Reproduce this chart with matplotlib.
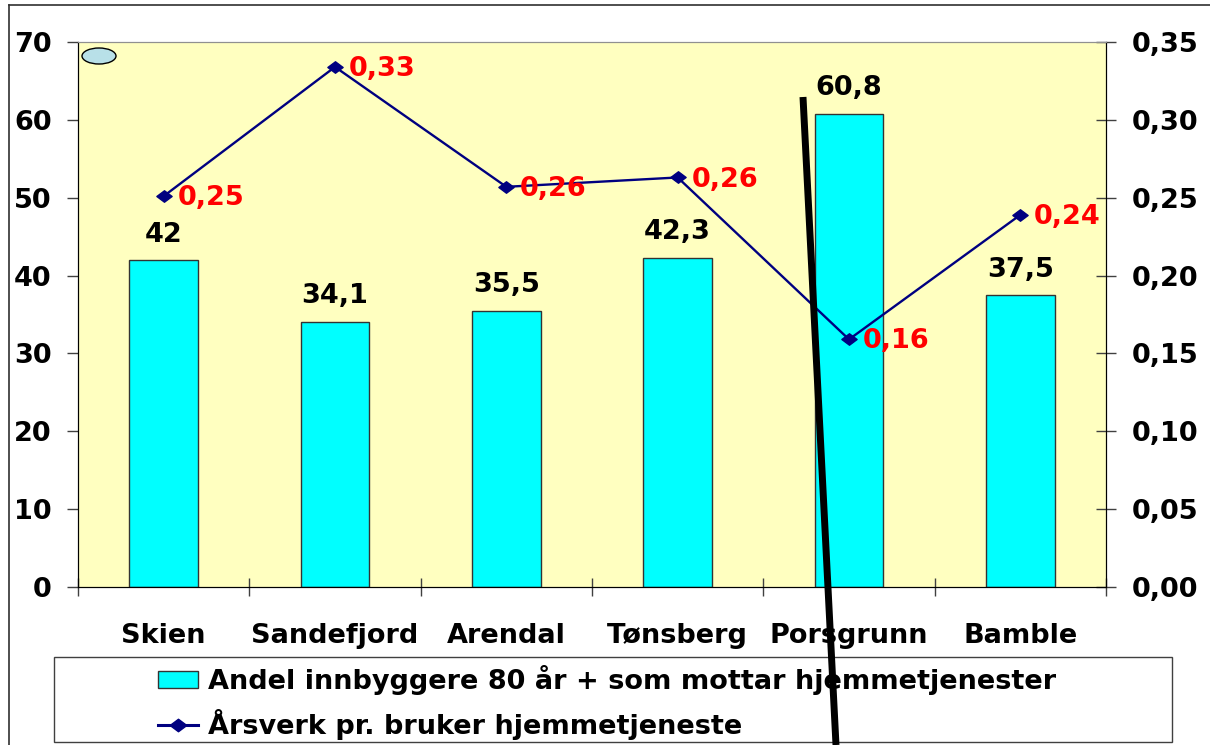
import matplotlib
matplotlib.use('Agg')
import matplotlib.pyplot as plt
from matplotlib.patches import Ellipse, Rectangle
from matplotlib.lines import Line2D
from matplotlib.path import Path
from matplotlib.ticker import FuncFormatter, MultipleLocator, FixedLocator

categories = ['Skien', 'Sandefjord', 'Arendal', 'Tønsberg', 'Porsgrunn', 'Bamble']
andel = [42, 34.1, 35.5, 42.3, 60.8, 37.5]
arsverk = [0.251, 0.334, 0.257, 0.263, 0.159, 0.239]
bar_label = 'Andel innbyggere 80 år + som mottar hjemmetjenester'
line_label = 'Årsverk pr. bruker hjemmetjeneste'

W, H = 1210, 745
plt.rcParams['font.family'] = ['DejaVu Sans']
plt.rcParams['font.weight'] = 'bold'
FS = 19.5

diamond = Path([(-1, 0), (0, 0.75), (1, 0), (0, -0.75), (-1, 0)],
               [Path.MOVETO, Path.LINETO, Path.LINETO, Path.LINETO, Path.CLOSEPOLY])

fig = plt.figure(figsize=(W / 100, H / 100), dpi=100)
fig.patch.set_facecolor('white')

ax = fig.add_axes([78 / W, (H - 587) / H, 1028 / W, 545 / H])
ax.set_facecolor('#FFFFC0')
xs = list(range(len(categories)))
ax.bar(xs, andel, width=0.4, color='#00FFFF', edgecolor='#333333', linewidth=1, zorder=2)
ax.set_xlim(-0.5, len(categories) - 0.5)
ax.set_ylim(0, 70)
ax.yaxis.set_major_locator(MultipleLocator(10))
ax.tick_params(axis='y', direction='out', length=8, width=1, colors='#404040',
               labelcolor='black', labelsize=FS, pad=11)
for lab in ax.get_yticklabels():
    lab.set_fontweight('bold')

# category boundaries as major ticks, labels at minor ticks
ax.xaxis.set_major_locator(FixedLocator([i - 0.5 for i in range(len(categories) + 1)]))
ax.xaxis.set_major_formatter(FuncFormatter(lambda v, p: ''))
ax.set_xticks(xs, minor=True)
ax.set_xticklabels(categories, minor=True, fontsize=FS, fontweight='bold')
ax.tick_params(axis='x', which='major', direction='inout', length=13, width=1, colors='#404040')
ax.tick_params(axis='x', which='minor', length=0, pad=26)

for s in ['left', 'bottom', 'right']:
    ax.spines[s].set_color('black')
ax.spines['top'].set_color('#909090')

for i, v in enumerate(andel):
    ax.annotate(f'{v:g}'.replace('.', ','), xy=(i, v), xytext=(0, 9), textcoords='offset points',
                ha='center', va='bottom', fontsize=FS, fontweight='bold', color='black', zorder=5)

ax2 = ax.twinx()
ax2.set_ylim(0, 0.35)
ax2.yaxis.set_major_locator(MultipleLocator(0.05))
ax2.yaxis.set_major_formatter(FuncFormatter(lambda v, p: f'{v:.2f}'.replace('.', ',')))
ax2.tick_params(axis='y', direction='inout', length=14, width=1, colors='#404040',
                labelcolor='black', labelsize=FS, pad=11.5)
for lab in ax2.get_yticklabels():
    lab.set_fontweight('bold')
for s in ['left', 'bottom', 'right']:
    ax2.spines[s].set_color('black')
ax2.spines['top'].set_color('#909090')

ax2.plot(xs, arsverk, color='#000080', linewidth=1.7, marker=diamond, markersize=11,
         markerfacecolor='#000080', markeredgecolor='#000080', zorder=4)
for i, v in enumerate(arsverk):
    ax2.annotate(f'{v:.2f}'.replace('.', ','), xy=(i, v), xytext=(10, -1.5), textcoords='offset points',
                 ha='left', va='center', fontsize=FS, fontweight='bold', color='#FF0000', zorder=5)

# legend
handles = [Rectangle((0, 0), 1, 1, facecolor='#00FFFF', edgecolor='#333333', linewidth=1),
           Line2D([0], [0], color='#000080', linewidth=2.2, marker=diamond, markersize=12,
                  markerfacecolor='#000080', markeredgecolor='#000080')]
leg = fig.legend(handles, [bar_label, line_label], loc='upper left',
                 bbox_to_anchor=(158 / W, 1 - 665 / H), frameon=False, borderpad=0,
                 borderaxespad=0, handlelength=1.48, handleheight=0.6, handletextpad=0.37,
                 labelspacing=0.52, prop={'size': FS, 'weight': 'bold'})
fig.add_artist(Rectangle((54 / W, 1 - 742 / H), (1172 - 54) / W, (742 - 657) / H,
                         transform=fig.transFigure, facecolor='white', edgecolor='#404040',
                         linewidth=1, zorder=1))

# figure border
fig.add_artist(Line2D([9 / W, 9 / W], [0, 1 - 5 / H], transform=fig.transFigure, color='#303030', linewidth=1.2))
fig.add_artist(Line2D([9 / W, 1], [1 - 5 / H, 1 - 5 / H], transform=fig.transFigure, color='#303030', linewidth=1.2))

# decorative shapes
fig.add_artist(Ellipse((99, H - 56), 34, 16, transform=None, facecolor='#B8E0E8',
                       edgecolor='black', linewidth=1, zorder=6))
fig.add_artist(Line2D([803 / W, 836 / W], [1 - 97 / H, 0], transform=fig.transFigure,
                      color='black', linewidth=5, zorder=10, solid_capstyle='butt'))

fig.savefig('out.png', dpi=100)
